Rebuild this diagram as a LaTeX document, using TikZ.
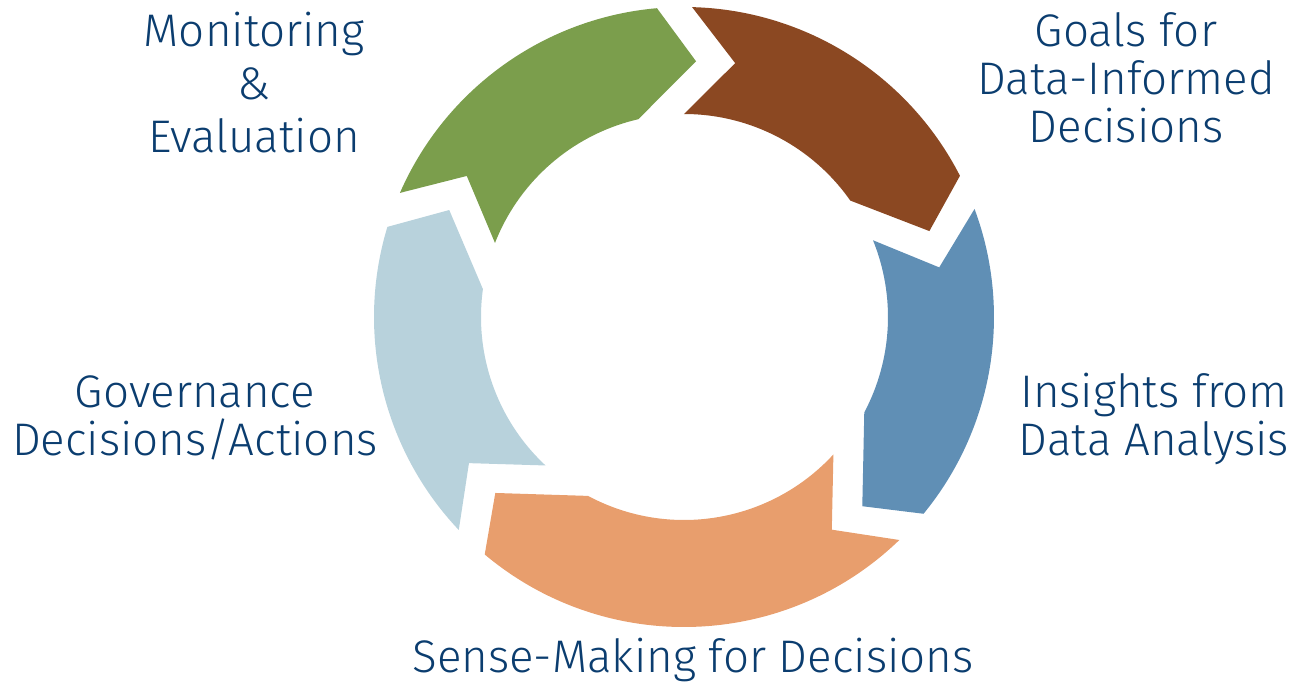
\documentclass[tikz,border=0pt]{standalone}
\usepackage{fontspec}
\setmainfont{Fira Sans}[UprightFont={* Light}]
\definecolor{mgreen}{HTML}{7B9E4C}
\definecolor{mbrown}{HTML}{8B4822}
\definecolor{mblue}{HTML}{608FB5}
\definecolor{morange}{HTML}{E89E6D}
\definecolor{mlight}{HTML}{B8D2DC}
\definecolor{labelblue}{HTML}{0B3D6F}
\tikzset{
  cyclelabel/.style={align=center, text=labelblue, anchor=base, inner sep=0pt,
    font=\fontsize{26}{27.3}\selectfont}
}
\begin{document}
\begin{tikzpicture}[x=0.02cm,y=0.02cm]
\useasboundingbox (-684,-377) rectangle (615,317);
% monitoring
\fill [mgreen] (156.4:310) arc [start angle=156.4, end angle=95, radius=310] -- (87.3:256) -- (103:203) arc [start angle=103, end angle=158.6, radius=203] -- (147:259) -- cycle;
% goals
\fill [mbrown] (88.5:310) arc [start angle=88.5, end angle=27.1, radius=310] -- (19.3:260) -- (35:203) arc [start angle=35, end angle=90, radius=203] -- (78.6:259) -- cycle;
% insights
\fill [mblue] (20.4:310) arc [start angle=20.4, end angle=-39.4, radius=310] -- (-46.7:260) -- (-27.9:204) arc [start angle=-27.9, end angle=22.1, radius=204] -- (11:260) -- cycle;
% sense-making
\fill [morange] (-46:310) arc [start angle=-46, end angle=-130, radius=310] -- (-137:258) -- (-118.2:203) arc [start angle=-118.2, end angle=-42.6, radius=203] -- (-55.2:259) -- cycle;
% governance
\fill [mlight] (223.4:310) arc [start angle=223.4, end angle=163.1, radius=310] -- (155.5:258) -- (172.1:203) arc [start angle=172.1, end angle=227, radius=203] -- (214.2:260) -- cycle;

% base anchor sits on the last line
\node [cyclelabel, font=\fontsize{26}{29.9}\selectfont] (mon) at (-430,165) {Monitoring\\\&\\Evaluation};
\node [cyclelabel] (goals) at (442,175) {Goals for\\Data-Informed\\Decisions};
\node [cyclelabel] (insights) at (470,-138) {Insights from\\Data Analysis};
\node [cyclelabel] (gov) at (-489,-138) {Governance\\Decisions/Actions};
\node [cyclelabel] (sense) at (9,-355) {Sense-Making for Decisions};
\end{tikzpicture}
\end{document}
